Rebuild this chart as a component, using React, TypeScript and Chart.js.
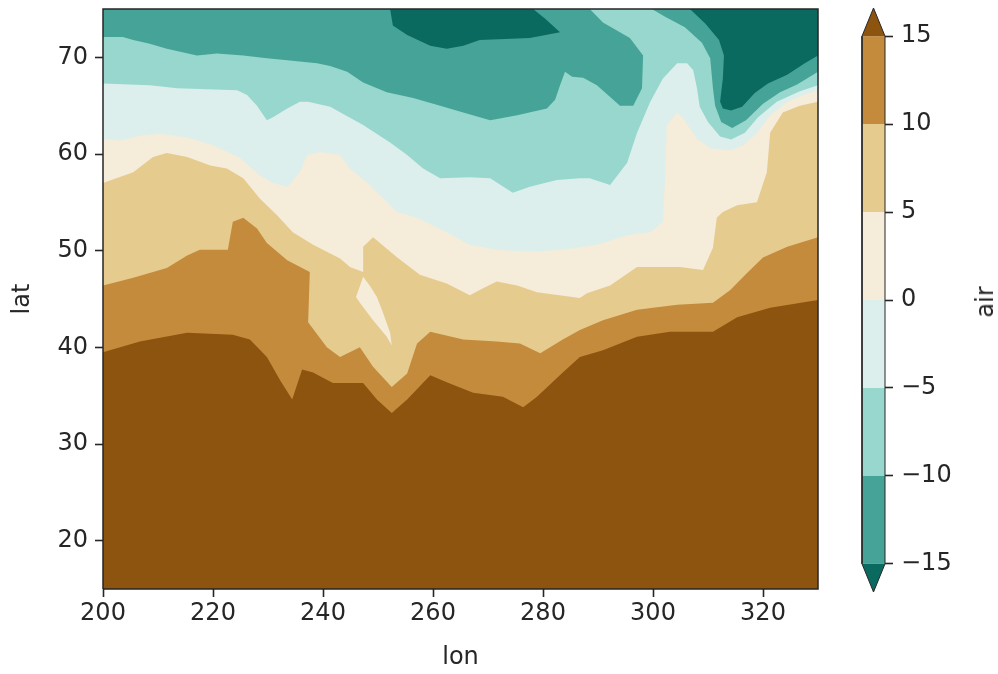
import React, { useEffect, useRef } from "react";
import { Chart, registerables } from "chart.js";

Chart.register(...registerables);

// Axis extents and ticks
const lonRange = [200, 330];
const latRange = [15, 75];
const lonTicks = [200, 220, 240, 260, 280, 300, 320];
const latTicks = [20, 30, 40, 50, 60, 70];

// Contour levels of air temperature and the colours of the eight bands
// (below -15, -15..-10, ..., 10..15, above 15)
const levels = [-15, -10, -5, 0, 5, 10, 15];
const bandColors = [
  "#0b6a60",
  "#46a397",
  "#97d7cd",
  "#dcefec",
  "#f5ecd9",
  "#e6cb8f",
  "#c48b3d",
  "#8c540f",
];

// Coldest pockets (< -15) along the northern edge, [lon, lat]
const coldPoolWest = [
  [252.2, 75], [252.7, 73.3], [255.3, 72.3], [259.5, 71.2], [262.5, 70.9],
  [265.5, 71.2], [268.5, 71.8], [277.6, 72.0], [283.1, 72.6], [280.4, 74.0],
  [278.2, 75],
];
const coldPoolEast = [
  [306.7, 75], [309.5, 73.5], [312.0, 71.8], [312.9, 70.2], [312.7, 67.8],
  [312.2, 65.4], [312.7, 64.7], [314.2, 64.5], [316.2, 64.9], [318.5, 66.3],
  [320.9, 67.3], [324.4, 68.2], [327.6, 69.4], [330, 70.2], [330, 75],
];

// Northern edge of each "air >= level" region, west to east, [lon, lat]
const edgeMinus10 = [
  [200, 72.1], [203.6, 72.1], [205.5, 71.8], [208.5, 71.4], [211.6, 70.9],
  [217.1, 70.2], [220.7, 70.4], [225.5, 70.2], [229.8, 69.9], [233.5, 69.7],
  [238.9, 69.4], [241.3, 69.1], [244.4, 68.5], [247.3, 67.4], [251.6, 66.4],
  [256.4, 65.8], [261.3, 65.0], [265.5, 64.3], [270.4, 63.5], [275.3, 64.0],
  [280.7, 64.7], [282.2, 65.6], [283.1, 67.1], [284.0, 68.5], [285.3, 68.0],
  [287.3, 67.9], [289.8, 67.1], [294.0, 65.0], [296.4, 65.0], [298.0, 66.8],
  [298.2, 70.2], [295.8, 72.0], [290.9, 73.6], [288.5, 75], [299.8, 75],
  [302.2, 74.2], [305.8, 73.1], [308.9, 71.5], [310.4, 69.9], [310.9, 66.8],
  [311.3, 65.0], [312.4, 63.3], [314.4, 62.7], [316.9, 63.5], [320.0, 65.2],
  [323.1, 66.4], [326.2, 67.2], [330, 68.5],
];
const edgeMinus5 = [
  [200, 67.3], [208.5, 67.1], [213.5, 66.8], [224.4, 66.6], [226.2, 66.1],
  [228.0, 65.0], [229.8, 63.5], [230.9, 63.8], [233.5, 64.7], [235.8, 65.4],
  [237.3, 65.4], [241.3, 64.9], [247.3, 63.0], [252.2, 61.2], [255.3, 59.9],
  [258.2, 58.5], [261.3, 57.5], [266.7, 57.6], [270.4, 57.5], [274.5, 56.0],
  [277.6, 56.6], [282.5, 57.3], [286.7, 57.5], [288.5, 57.5], [292.2, 56.8],
  [295.3, 59.1], [297.1, 62.2], [299.5, 65.4], [301.8, 67.8], [304.4, 69.4],
  [306.2, 69.4], [307.3, 68.7], [308.0, 66.8], [308.5, 64.9], [310.0, 63.3],
  [312.2, 61.8], [314.2, 61.5], [316.7, 62.2], [319.1, 63.8], [322.5, 65.4],
  [326.7, 66.5], [330, 67.1],
];
const edge0 = [
  [200, 61.6], [203.1, 61.4], [206.7, 61.9], [210.4, 62.1], [215.3, 61.7],
  [220.0, 60.9], [224.9, 59.6], [228.5, 57.8], [230.9, 57.0], [233.5, 56.6],
  [235.8, 58.1], [237.1, 59.9], [239.5, 60.2], [243.1, 59.9], [244.9, 58.5],
  [248.5, 56.8], [253.5, 54.0], [257.1, 53.4], [262.5, 51.9], [266.7, 50.6],
  [271.6, 50.1], [277.6, 49.9], [283.6, 50.1], [289.8, 50.6], [295.3, 51.6],
  [299.5, 51.9], [301.8, 53.0], [302.2, 57.5], [302.5, 63.0], [304.4, 64.3],
  [305.5, 63.7], [308.0, 61.6], [310.4, 60.6], [314.0, 60.4], [316.4, 60.9],
  [318.9, 62.2], [321.3, 64.0], [324.4, 65.4], [327.3, 66.1], [330, 66.6],
];
const edge5 = [
  [200, 57.0], [205.5, 58.1], [209.1, 59.7], [211.6, 60.1], [215.3, 59.7],
  [219.5, 58.8], [222.5, 58.5], [225.5, 57.5], [228.5, 55.4], [231.6, 53.7],
  [234.5, 51.9], [238.2, 50.6], [243.1, 49.2], [244.9, 48.3], [247.3, 47.8],
  [247.3, 50.4], [249.1, 51.4], [253.5, 49.3], [257.6, 47.5], [262.5, 46.6],
  [266.7, 45.4], [269.1, 46.1], [271.6, 46.8], [275.3, 46.4], [278.9, 45.7],
  [286.7, 45.1], [288.0, 45.6], [292.2, 46.4], [297.1, 48.3], [304.9, 48.3],
  [309.1, 48.0], [310.9, 50.3], [311.6, 53.4], [312.7, 54.0], [315.3, 54.7],
  [318.9, 55.0], [320.7, 58.1], [321.3, 62.2], [323.6, 64.3], [326.7, 65.0],
  [330, 65.4],
];
// Small pocket of 0..5 inside the 5..10 band
const warmPocket = [
  [247.3, 47.3], [246.0, 45.2], [246.7, 44.6], [249.1, 42.8], [251.6, 41.1],
  [252.5, 40.2], [252.2, 41.5], [250.9, 43.6], [249.8, 45.2], [248.5, 46.4],
];
const edge10 = [
  [200, 46.4], [205.5, 47.2], [211.6, 48.2], [215.3, 49.5], [217.6, 50.1],
  [222.7, 50.1], [223.6, 53.0], [225.5, 53.4], [228.0, 52.3], [229.8, 50.8],
  [233.5, 49.0], [237.6, 47.8], [237.3, 42.6], [240.7, 40.0], [243.1, 39.0],
  [246.7, 40.0], [249.1, 38.0], [252.5, 35.9], [255.3, 37.3], [257.1, 40.4],
  [259.5, 41.6], [265.5, 40.8], [271.6, 40.6], [275.8, 40.4], [279.5, 39.4],
  [283.6, 40.8], [286.7, 41.8], [290.9, 42.8], [297.1, 43.9], [304.4, 44.4],
  [310.9, 44.6], [314.0, 45.9], [317.1, 47.7], [320.0, 49.3], [324.4, 50.4],
  [330, 51.4],
];
const edge15 = [
  [200, 39.5], [206.7, 40.6], [215.3, 41.5], [223.6, 41.3], [226.7, 40.8],
  [229.8, 39.0], [232.2, 36.6], [234.4, 34.6], [236.2, 37.7], [238.2, 37.4],
  [241.8, 36.3], [247.3, 36.3], [249.8, 34.6], [252.5, 33.2], [255.3, 34.6],
  [259.5, 37.1], [262.5, 36.4], [267.3, 35.3], [272.7, 34.9], [276.4, 33.8],
  [278.9, 34.9], [283.6, 37.4], [286.7, 39.0], [290.9, 39.7], [297.1, 41.1],
  [303.1, 41.6], [310.9, 41.6], [315.3, 43.1], [321.3, 44.1], [330, 44.9],
];

// How far the colour-bar end triangles reach past the outer levels
const extendTip = 1.6;

const FONT = "'DejaVu Sans', sans-serif";
const FONT_SIZE = 24;
const INK = "#262626";

type Pair = number[];
const toPts = (arr: Pair[]) => arr.map(([x, y]) => ({ x, y }));

// Region south of a northern edge, closed along the bottom of the map
const regionBelow = (edge: Pair[]) => [
  { x: lonRange[0], y: latRange[0] },
  ...toPts(edge),
  { x: lonRange[1], y: latRange[0] },
];

let orderCounter = 1000;
const shape = (pts: { x: number; y: number }[], color: string) => ({
  type: "line",
  data: pts,
  backgroundColor: color,
  borderColor: color,
  borderWidth: 0,
  pointRadius: 0,
  tension: 0,
  fill: "shape",
  order: orderCounter--,
});

const axisTicks = (values: number[]) => (scale: any) => {
  scale.ticks = values.map((value) => ({ value }));
};

// Fix an axis box size and drop the extra room Chart.js reserves for edge labels
const fixedBox = (dim: "width" | "height", size: number) => (s: any) => {
  s[dim] = size;
  s.paddingTop = 0;
  s.paddingBottom = 0;
  s.paddingLeft = 0;
  s.paddingRight = 0;
};

const minusLabel = (v: any) => {
  const n = Number(v);
  return n < 0 ? "\u2212" + Math.abs(n) : String(n);
};

export default function App() {
  const mainRef = useRef<HTMLCanvasElement>(null);
  const barRef = useRef<HTMLCanvasElement>(null);

  useEffect(() => {
    orderCounter = 1000;
    const mapDatasets: any[] = [
      shape(
        [
          { x: lonRange[0], y: latRange[0] },
          { x: lonRange[0], y: latRange[1] },
          { x: lonRange[1], y: latRange[1] },
          { x: lonRange[1], y: latRange[0] },
        ],
        bandColors[1]
      ),
      shape(toPts(coldPoolWest), bandColors[0]),
      shape(toPts(coldPoolEast), bandColors[0]),
      shape(regionBelow(edgeMinus10), bandColors[2]),
      shape(regionBelow(edgeMinus5), bandColors[3]),
      shape(regionBelow(edge0), bandColors[4]),
      shape(regionBelow(edge5), bandColors[5]),
      shape(toPts(warmPocket), bandColors[4]),
      shape(regionBelow(edge10), bandColors[6]),
      shape(regionBelow(edge15), bandColors[7]),
      {
        type: "line",
        data: [
          { x: lonRange[0], y: latRange[0] },
          { x: lonRange[1], y: latRange[0] },
          { x: lonRange[1], y: latRange[1] },
          { x: lonRange[0], y: latRange[1] },
          { x: lonRange[0], y: latRange[0] },
        ],
        borderColor: INK,
        borderWidth: 1.5,
        pointRadius: 0,
        fill: false,
        tension: 0,
        clip: false,
        order: 0,
      },
    ];

    const tickFont = { family: FONT, size: FONT_SIZE };
    const tickGrid = {
      display: true,
      drawOnChartArea: false,
      drawTicks: true,
      tickLength: 8,
      tickColor: INK,
      tickWidth: 1.6,
    };

    const main = new Chart(mainRef.current as HTMLCanvasElement, {
      type: "line",
      data: { datasets: mapDatasets },
      options: {
        responsive: false,
        animation: false,
        devicePixelRatio: 1,
        events: [],
        layout: { padding: { top: 9, right: 22, bottom: 0, left: 0 } },
        plugins: { legend: { display: false }, tooltip: { enabled: false } },
        scales: {
          x: {
            type: "linear",
            min: lonRange[0],
            max: lonRange[1],
            afterBuildTicks: axisTicks(lonTicks),
            afterFit: fixedBox("height", 85),
            border: { display: false },
            grid: tickGrid,
            ticks: { color: INK, font: tickFont, padding: 2, maxRotation: 0, autoSkip: false },
            title: {
              display: true,
              text: "lon",
              color: INK,
              font: tickFont,
              padding: { top: 0, bottom: 2 },
            },
          },
          y: {
            type: "linear",
            min: latRange[0],
            max: latRange[1],
            afterBuildTicks: axisTicks(latTicks),
            afterFit: fixedBox("width", 103),
            border: { display: false },
            grid: tickGrid,
            ticks: { color: INK, font: tickFont, padding: 7, autoSkip: false },
            title: {
              display: true,
              text: "lat",
              color: INK,
              font: tickFont,
              padding: { top: 8, bottom: 0 },
            },
          },
        },
      } as any,
    } as any);

    // Colour bar: one box per band plus the two extension triangles
    orderCounter = 1000;
    const barDatasets: any[] = [];
    for (let i = 0; i < levels.length - 1; i++) {
      barDatasets.push(
        shape(
          [
            { x: 0, y: levels[i] },
            { x: 1, y: levels[i] },
            { x: 1, y: levels[i + 1] },
            { x: 0, y: levels[i + 1] },
          ],
          bandColors[i + 1]
        )
      );
    }
    const lo = levels[0];
    const hi = levels[levels.length - 1];
    barDatasets.push(
      shape(
        [
          { x: 0, y: lo },
          { x: 1, y: lo },
          { x: 0.5, y: lo - extendTip },
        ],
        bandColors[0]
      )
    );
    barDatasets.push(
      shape(
        [
          { x: 0, y: hi },
          { x: 1, y: hi },
          { x: 0.5, y: hi + extendTip },
        ],
        bandColors[bandColors.length - 1]
      )
    );
    barDatasets.push({
      type: "line",
      data: [
        { x: 0, y: lo },
        { x: 0.5, y: lo - extendTip },
        { x: 1, y: lo },
        { x: 1, y: hi },
        { x: 0.5, y: hi + extendTip },
        { x: 0, y: hi },
        { x: 0, y: lo },
      ],
      borderColor: INK,
      borderWidth: 1,
      pointRadius: 0,
      fill: false,
      tension: 0,
      clip: false,
      order: 0,
    });

    const bar = new Chart(barRef.current as HTMLCanvasElement, {
      type: "line",
      data: { datasets: barDatasets },
      options: {
        responsive: false,
        animation: false,
        devicePixelRatio: 1,
        events: [],
        layout: { padding: { top: 8, right: 0, bottom: 82, left: 22 } },
        plugins: { legend: { display: false }, tooltip: { enabled: false } },
        scales: {
          x: { type: "linear", min: 0, max: 1, display: false },
          y: {
            type: "linear",
            position: "right",
            min: lo - extendTip,
            max: hi + extendTip,
            afterBuildTicks: axisTicks(levels),
            afterFit: fixedBox("width", 113),
            border: { display: false },
            grid: tickGrid,
            ticks: {
              color: INK,
              font: tickFont,
              padding: 8,
              autoSkip: false,
              callback: minusLabel,
            },
          },
        },
      } as any,
    } as any);

    return () => {
      main.destroy();
      bar.destroy();
    };
  }, []);

  return (
    <div
      style={{
        position: "fixed",
        left: 0,
        top: 0,
        width: 998,
        height: 674,
        background: "#ffffff",
        overflow: "hidden",
      }}
    >
      <canvas
        ref={mainRef}
        width={840}
        height={674}
        style={{ position: "absolute", left: 0, top: 0 }}
      />
      <canvas
        ref={barRef}
        width={158}
        height={674}
        style={{ position: "absolute", left: 840, top: 0 }}
      />
      <div
        style={{
          position: "absolute",
          left: 985,
          top: 302,
          transform: "translate(-50%, -50%) rotate(-90deg)",
          fontFamily: FONT,
          fontSize: FONT_SIZE,
          color: INK,
          whiteSpace: "nowrap",
          lineHeight: 1,
        }}
      >
        air
      </div>
    </div>
  );
}
